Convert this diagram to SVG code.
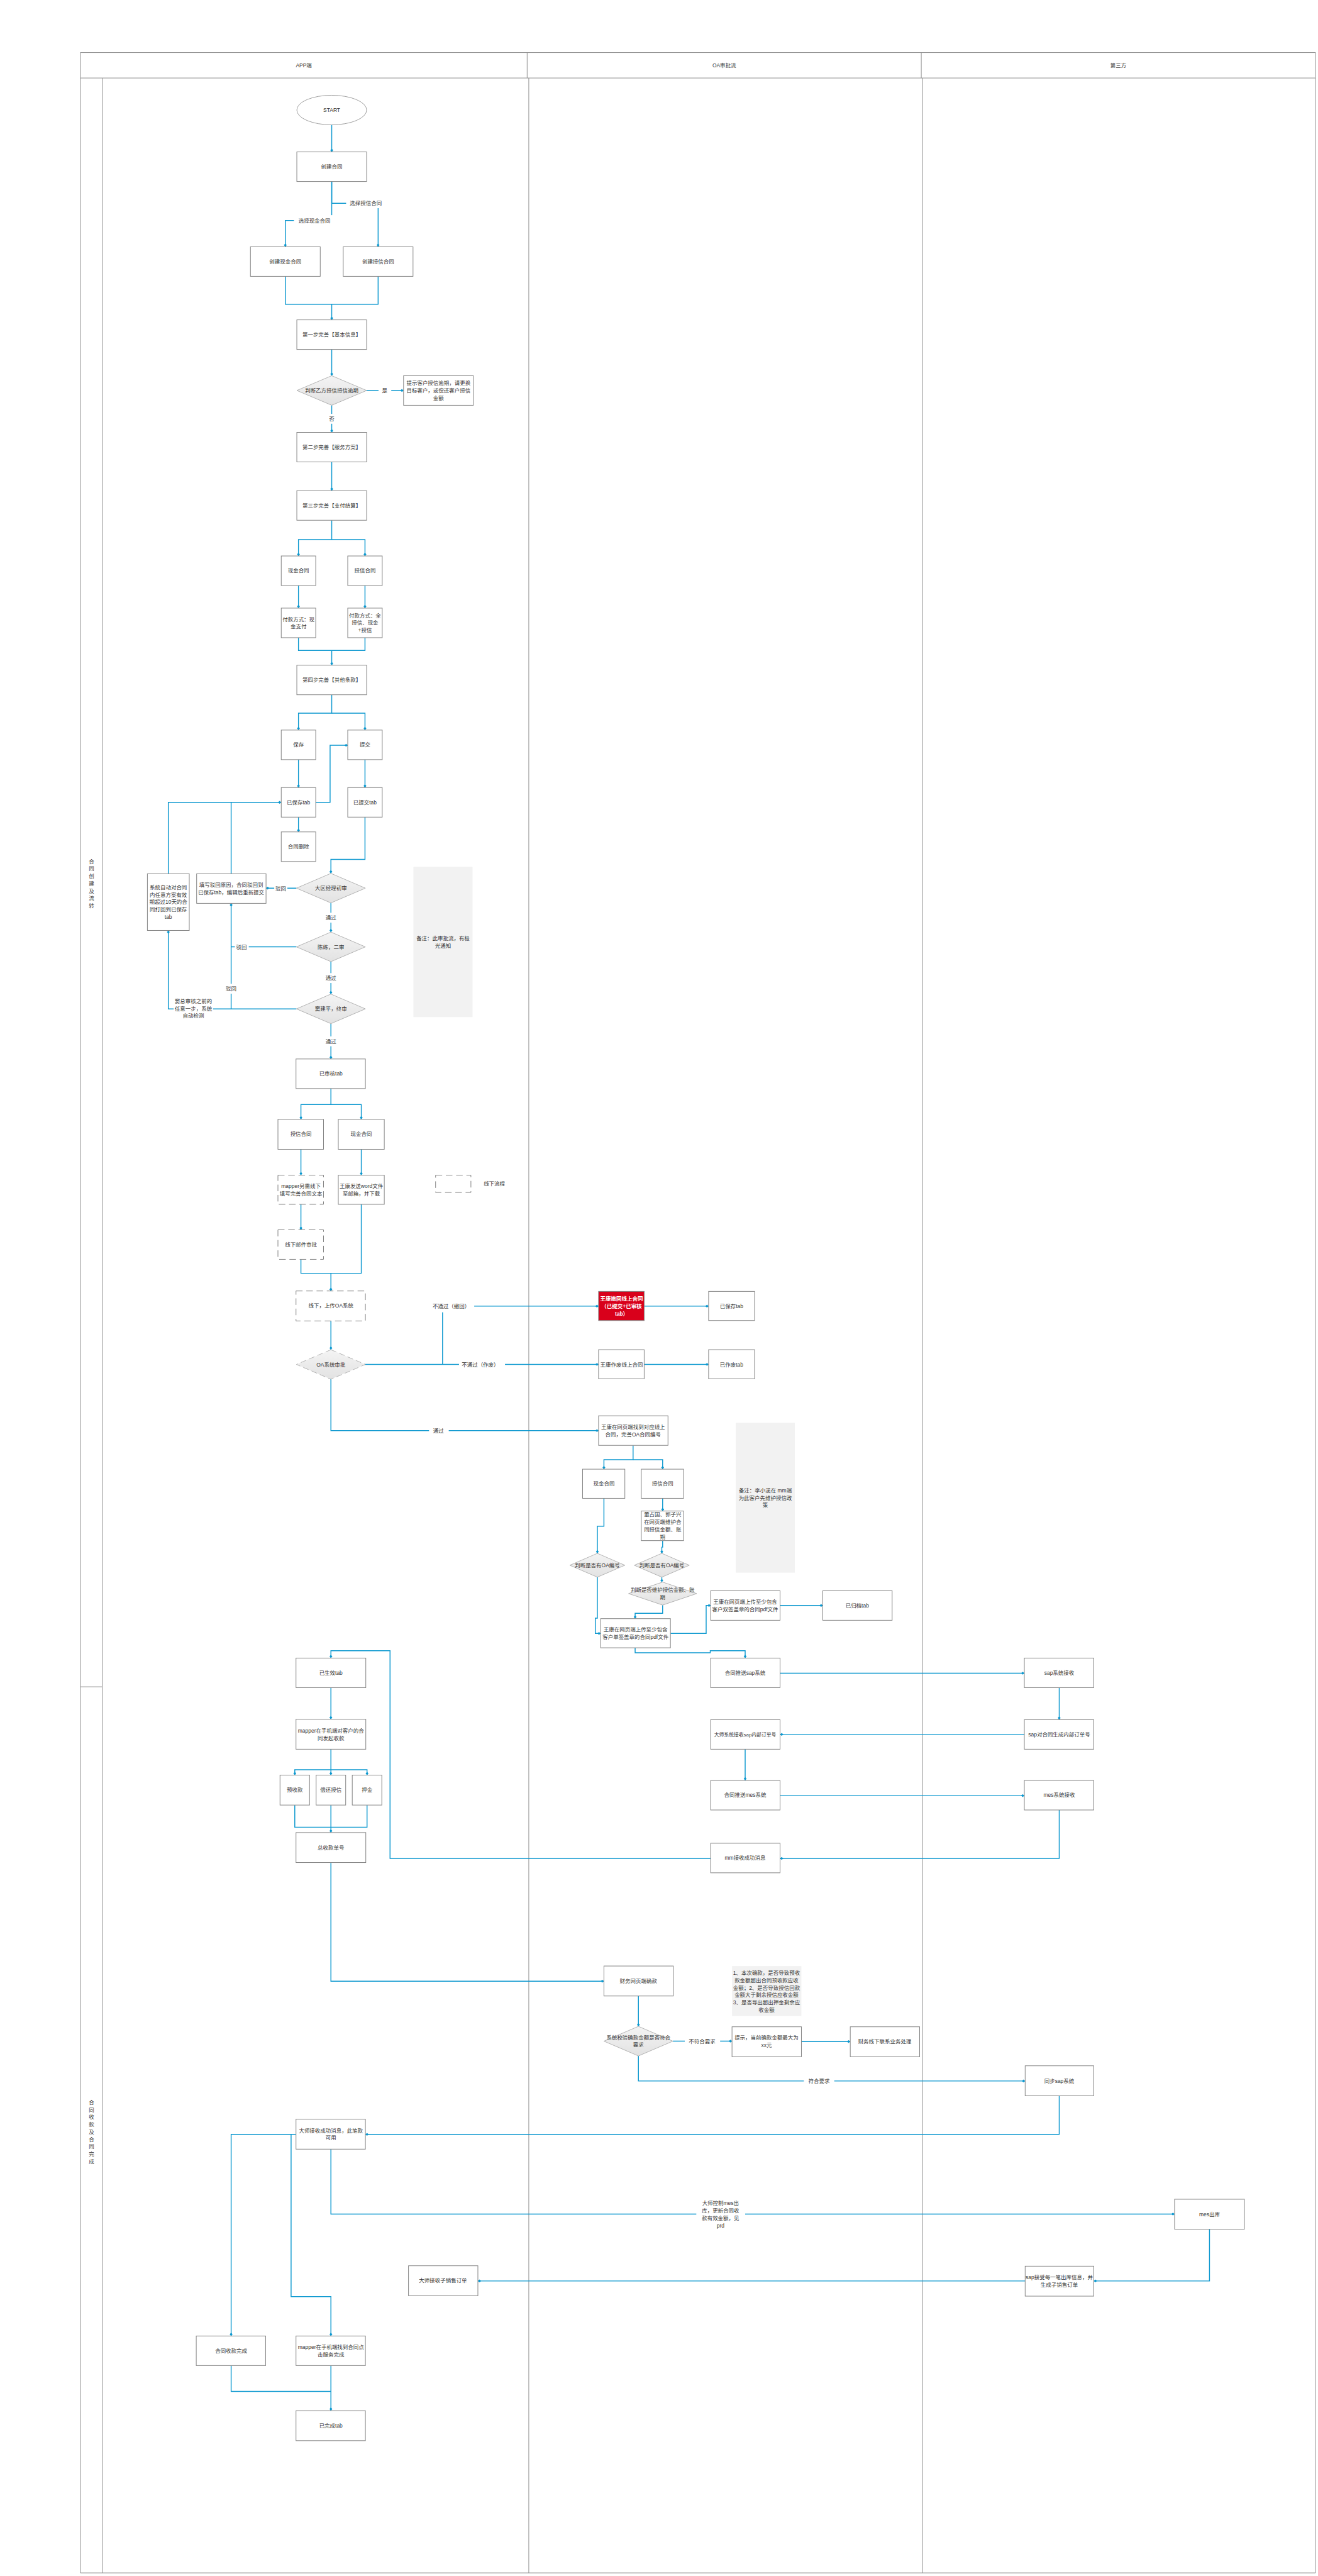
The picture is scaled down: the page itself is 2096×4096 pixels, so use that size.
<svg xmlns="http://www.w3.org/2000/svg" width="2096" height="4096" viewBox="0 0 2096 4096">
<defs>
<style>
.b{fill:#fff;stroke:#808080;stroke-width:1.5}
.ds{fill:#fff;stroke:#808080;stroke-width:1.5;stroke-dasharray:16 9}
.dm{fill:url(#dg);stroke:#a6a6a6;stroke-width:1.3}
.dmd{fill:url(#dg);stroke:#a6a6a6;stroke-width:1.3;stroke-dasharray:14 8}
.nt{fill:#f2f2f2}
.red{fill:#d9001b;stroke:#808080;stroke-width:1.5}
.t{font-family:"Liberation Sans","Noto Sans CJK SC",sans-serif;font-size:13px;fill:#333;text-anchor:middle}
.s{font-size:12px}
.w{fill:#fff;font-weight:bold}
.c{fill:none;stroke:#0c98cf;stroke-width:2.2}
.a{marker-end:url(#m)}
.ln{stroke:#8c8c8c;stroke-width:1.5;fill:none}
.lb{fill:#fff}
</style>
<linearGradient id="dg" x1="0" y1="0" x2="0" y2="1"><stop offset="0" stop-color="#f4f4f4"/><stop offset="1" stop-color="#e2e2e2"/></linearGradient>
<marker id="m" viewBox="0 0 8 8" refX="8" refY="4" markerWidth="8" markerHeight="8" markerUnits="userSpaceOnUse" orient="auto"><path d="M0,4 L4,0.5 L8,4 L4,7.5 Z" fill="#0c98cf"/></marker>
</defs>
<rect x="0" y="0" width="2096" height="4096" fill="#fff"/>
<g transform="scale(0.6529)">
<g id="swimlanes">
<rect x="196" y="128" width="3008" height="62" fill="#fff" class="ln"/>
<path class="ln" d="M1284,128 V190 M2244,128 V190 M196,190 V6266 M249,190 V6266 M1288,190 V6266 M2247,190 V6266 M3204,190 V6266 M196,4108 H249 M196,6266 H3204"/>
<text class="t" x="740" y="163.5">APP端</text>
<text class="t" x="1764" y="163.5">OA审批流</text>
<text class="t" x="2724" y="163.5">第三方</text>
<text class="t" x="223" y="2102.5"><tspan x="223">合</tspan><tspan x="223" dy="18">同</tspan><tspan x="223" dy="18">创</tspan><tspan x="223" dy="18">建</tspan><tspan x="223" dy="18">及</tspan><tspan x="223" dy="18">流</tspan><tspan x="223" dy="18">转</tspan></text>
<text class="t" x="223" y="5124.5"><tspan x="223">合</tspan><tspan x="223" dy="18">同</tspan><tspan x="223" dy="18">收</tspan><tspan x="223" dy="18">款</tspan><tspan x="223" dy="18">及</tspan><tspan x="223" dy="18">合</tspan><tspan x="223" dy="18">同</tspan><tspan x="223" dy="18">完</tspan><tspan x="223" dy="18">成</tspan></text>
</g>

<g id="connectors">
<path class="c a" d="M808,304 V370"/>
<path class="c a" d="M808,442 V495 H921 V601"/>
<path class="c a" d="M808,442 V537 H695 V601"/>
<path class="c a" d="M695,673 V741 H808 V779"/>
<path class="c" d="M921,673 V741 H808"/>
<path class="c a" d="M808,851 V915"/>
<path class="c a" d="M893,951 H983"/>
<path class="c a" d="M808,987 V1053"/>
<path class="c a" d="M808,1125 V1195"/>
<path class="c a" d="M808,1267 V1314 H727 V1354"/>
<path class="c a" d="M808,1314 H889 V1354"/>
<path class="c a" d="M727,1426 V1481"/>
<path class="c a" d="M889,1426 V1481"/>
<path class="c" d="M727,1553 V1584 H889 V1553"/>
<path class="c a" d="M808,1584 V1620"/>
<path class="c a" d="M808,1692 V1737 H727 V1778"/>
<path class="c a" d="M808,1737 H889 V1778"/>
<path class="c a" d="M727,1850 V1918"/>
<path class="c a" d="M889,1850 V1918"/>
<path class="c a" d="M769,1954 H804 V1815 H847"/>
<path class="c a" d="M727,1990 V2026"/>
<path class="c a" d="M889,1990 V2093 H806 V2127"/>
<path class="c a" d="M722,2163 H648"/>
<path class="c a" d="M563,2128 V1954 H685"/>
<path class="c" d="M410,2128 V1954 H563"/>
<path class="c a" d="M806,2199 V2270"/>
<path class="c" d="M722,2306 H563"/>
<path class="c a" d="M806,2342 V2421"/>
<path class="c a" d="M722,2457 H410 V2266"/>
<path class="c a" d="M563,2457 V2200"/>
<path class="c a" d="M806,2493 V2579"/>
<path class="c a" d="M806,2651 V2690 H733 V2726"/>
<path class="c a" d="M806,2690 H880 V2726"/>
<path class="c a" d="M733,2799 V2862"/>
<path class="c a" d="M880,2799 V2862"/>
<path class="c a" d="M733,2933 V2995"/>
<path class="c" d="M733,3067 V3101 H880 V2933"/>
<path class="c a" d="M806,3101 V3144"/>
<path class="c a" d="M806,3217 V3287"/>
<path class="c a" d="M889,3323 H1458"/>
<path class="c a" d="M1078,3323 V3181 H1458"/>
<path class="c a" d="M806,3359 V3484 H1458"/>
<path class="c a" d="M1569,3181 H1726"/>
<path class="c a" d="M1569,3323 H1726"/>
<path class="c a" d="M1542,3520 V3555 H1471 V3578"/>
<path class="c a" d="M1542,3555 H1614 V3578"/>
<path class="c a" d="M1471,3649 V3717 H1455 V3783"/>
<path class="c a" d="M1614,3649 V3680"/>
<path class="c a" d="M1614,3752 V3768 H1612 V3783"/>
<path class="c a" d="M1612,3841 V3853"/>
<path class="c a" d="M1455,3841 V3941 H1450 V3978 H1463"/>
<path class="c a" d="M1614,3909 V3929 H1547 V3942"/>
<path class="c a" d="M1633,3978 H1720 V3910 H1731"/>
<path class="c a" d="M1900,3910 H2004"/>
<path class="c a" d="M1547,4013 V4025 H1730 V4020 H1815 V4038"/>
<path class="c a" d="M1900,4075 H2495"/>
<path class="c a" d="M2580,4110 V4188"/>
<path class="c a" d="M2495,4224 H1900"/>
<path class="c a" d="M1815,4260 V4336"/>
<path class="c a" d="M1900,4373 H2495"/>
<path class="c a" d="M2580,4408 V4526 H1900"/>
<path class="c a" d="M1731,4526 H950 V4020 H806 V4038"/>
<path class="c a" d="M806,4110 V4187"/>
<path class="c a" d="M806,4260 V4310 H718 V4323"/>
<path class="c a" d="M806,4310 V4323"/>
<path class="c a" d="M806,4310 H894 V4323"/>
<path class="c" d="M718,4396 V4450 H894 V4396"/>
<path class="c a" d="M806,4396 V4463"/>
<path class="c a" d="M806,4537 V4825 H1471"/>
<path class="c a" d="M1555,4861 V4935"/>
<path class="c a" d="M1639,4971 H1783"/>
<path class="c a" d="M1952,4972 H2071"/>
<path class="c a" d="M1555,5007 V5068 H2497"/>
<path class="c a" d="M2580,5104 V5198 H890"/>
<path class="c a" d="M721,5198 H563 V5689"/>
<path class="c a" d="M709,5198 V5593 H806 V5689"/>
<path class="c a" d="M806,5234 V5392 H2861"/>
<path class="c a" d="M2946,5429 V5555 H2664"/>
<path class="c a" d="M2497,5555 H1164"/>
<path class="c" d="M563,5761 V5824 H806"/>
<path class="c a" d="M806,5761 V5871"/>
</g>

<g id="labels">
<rect class="lb" x="843" y="483" width="90" height="24"/><text class="t" x="891" y="499.5">选择授信合同</text>
<rect class="lb" x="716" y="524" width="96" height="26"/><text class="t" x="766" y="541.5">选择现金合同</text>
<rect class="lb" x="922" y="939" width="31" height="24"/><text class="t" x="937" y="955.5">是</text>
<rect class="lb" x="796" y="1008" width="24" height="24"/><text class="t" x="808" y="1024.5">否</text>
<rect class="lb" x="668" y="2152" width="32" height="24"/><text class="t" x="684" y="2168.5">驳回</text>
<rect class="lb" x="788" y="2223" width="36" height="24"/><text class="t" x="806" y="2239.5">通过</text>
<rect class="lb" x="572" y="2295" width="34" height="24"/><text class="t" x="588" y="2311.5">驳回</text>
<rect class="lb" x="788" y="2370" width="36" height="24"/><text class="t" x="806" y="2386.5">通过</text>
<rect class="lb" x="549" y="2396" width="28" height="24"/><text class="t" x="563" y="2412.5">驳回</text>
<rect class="lb" x="423" y="2428" width="96" height="58"/><text class="t" x="471" y="2443.5"><tspan x="471">窦总审核之前的</tspan><tspan x="471" dy="17.5">任意一步，系统</tspan><tspan x="471" dy="17.5">自动检测</tspan></text>
<rect class="lb" x="788" y="2524" width="36" height="24"/><text class="t" x="806" y="2540.5">通过</text>
<rect class="lb" x="1050" y="3168" width="105" height="28"/><text class="t" x="1099" y="3185.5">不通过（撤回）</text>
<rect class="lb" x="1118" y="3311" width="112" height="24"/><text class="t" x="1170" y="3327.5">不通过（作废）</text>
<rect class="lb" x="1045" y="3472" width="48" height="24"/><text class="t" x="1068" y="3488.5">通过</text>
<rect class="lb" x="1668" y="4960" width="86" height="24"/><text class="t" x="1710" y="4976.5">不符合要求</text>
<rect class="lb" x="1958" y="5056" width="74" height="24"/><text class="t" x="1995" y="5072.5">符合要求</text>
<rect class="lb" x="1696" y="5353" width="119" height="78"/><text class="t" x="1755" y="5370.5"><tspan x="1755">大师控制mes出</tspan><tspan x="1755" dy="18">库，更新合同收</tspan><tspan x="1755" dy="18">款有效金额，见</tspan><tspan x="1755" dy="18">prd</tspan></text>
</g>

<g id="n-start"><ellipse cx="808" cy="268" rx="85" ry="36" fill="#fff" stroke="#8c8c8c" stroke-width="1.3"/><text class="t" x="808" y="272.5">START</text></g>
<g id="n-create"><rect class="b" x="723" y="370" width="170" height="72"/><text class="t" x="808" y="410.5">创建合同</text></g>
<g id="n-create-cash"><rect class="b" x="610" y="601" width="170" height="72"/><text class="t" x="695" y="641.5">创建现金合同</text></g>
<g id="n-create-credit"><rect class="b" x="836" y="601" width="170" height="72"/><text class="t" x="921" y="641.5">创建授信合同</text></g>
<g id="n-step1"><rect class="b" x="723" y="779" width="170" height="72"/><text class="t" x="808" y="819.5">第一步完善【基本信息】</text></g>
<g id="n-judge-overdue"><polygon class="dm" points="808,915 893,951 808,987 723,951"/><text class="t" x="808" y="955.5">判断乙方授信授信逾期</text></g>
<g id="n-tip-overdue"><rect class="b" x="983" y="915" width="170" height="72"/><text class="t" x="1068" y="937.5"><tspan x="1068">提示客户授信逾期，请更换</tspan><tspan x="1068" dy="18">目标客户，或偿还客户授信</tspan><tspan x="1068" dy="18">金额</tspan></text></g>
<g id="n-step2"><rect class="b" x="723" y="1053" width="170" height="72"/><text class="t" x="808" y="1093.5">第二步完善【服务方案】</text></g>
<g id="n-step3"><rect class="b" x="723" y="1195" width="170" height="72"/><text class="t" x="808" y="1235.5">第三步完善【支付结算】</text></g>
<g id="n-cash1"><rect class="b" x="685" y="1354" width="84" height="72"/><text class="t" x="727" y="1394.5">现金合同</text></g>
<g id="n-credit1"><rect class="b" x="847" y="1354" width="84" height="72"/><text class="t" x="889" y="1394.5">授信合同</text></g>
<g id="n-pay-cash"><rect class="b" x="685" y="1481" width="84" height="72"/><text class="t" x="727" y="1512.5"><tspan x="727">付款方式：现</tspan><tspan x="727" dy="18">金支付</tspan></text></g>
<g id="n-pay-credit"><rect class="b" x="847" y="1481" width="84" height="72"/><text class="t" x="889" y="1503.5"><tspan x="889">付款方式：全</tspan><tspan x="889" dy="18">授信、现金</tspan><tspan x="889" dy="18">+授信</tspan></text></g>
<g id="n-step4"><rect class="b" x="723" y="1620" width="170" height="72"/><text class="t" x="808" y="1660.5">第四步完善【其他条款】</text></g>
<g id="n-save"><rect class="b" x="685" y="1778" width="84" height="72"/><text class="t" x="727" y="1818.5">保存</text></g>
<g id="n-submit"><rect class="b" x="847" y="1778" width="84" height="72"/><text class="t" x="889" y="1818.5">提交</text></g>
<g id="n-saved-tab"><rect class="b" x="685" y="1918" width="84" height="72"/><text class="t" x="727" y="1958.5">已保存tab</text></g>
<g id="n-submitted-tab"><rect class="b" x="847" y="1918" width="84" height="72"/><text class="t" x="889" y="1958.5">已提交tab</text></g>
<g id="n-delete"><rect class="b" x="685" y="2026" width="84" height="72"/><text class="t" x="727" y="2066.5">合同删除</text></g>
<g id="n-review1"><polygon class="dm" points="806,2127 890,2163 806,2199 722,2163"/><text class="t" x="806" y="2167.5">大区经理初审</text></g>
<g id="n-reject-fill"><rect class="b" x="479" y="2128" width="169" height="72"/><text class="t" x="563" y="2159.5"><tspan x="563">填写驳回原因，合同驳回到</tspan><tspan x="563" dy="18">已保存tab，编辑后重新提交</tspan></text></g>
<g id="n-auto-return"><rect class="b" x="359" y="2128" width="102" height="138"/><text class="t" x="410" y="2165.5"><tspan x="410">系统自动对合同</tspan><tspan x="410" dy="18">内任意方案有效</tspan><tspan x="410" dy="18">期超过10天的合</tspan><tspan x="410" dy="18">同打回到已保存</tspan><tspan x="410" dy="18">tab</tspan></text></g>
<g id="n-review2"><polygon class="dm" points="806,2270 890,2306 806,2342 722,2306"/><text class="t" x="806" y="2310.5">陈练，二审</text></g>
<g id="n-review3"><polygon class="dm" points="806,2421 890,2457 806,2493 722,2457"/><text class="t" x="806" y="2461.5">窦建平，终审</text></g>
<g id="n-note1"><rect class="nt" x="1007" y="2111" width="144" height="366"/><text class="t" x="1079" y="2290"><tspan x="1079">备注：此审批流，有极</tspan><tspan x="1079" dy="18">光通知</tspan></text></g>
<g id="n-audited-tab"><rect class="b" x="721" y="2579" width="169" height="72"/><text class="t" x="806" y="2619.5">已审核tab</text></g>
<g id="n-credit2"><rect class="b" x="677" y="2726" width="111" height="73"/><text class="t" x="733" y="2766.5">授信合同</text></g>
<g id="n-cash2"><rect class="b" x="824" y="2726" width="112" height="73"/><text class="t" x="880" y="2766.5">现金合同</text></g>
<g id="n-mapper-offline"><rect class="ds" x="677" y="2862" width="111" height="71"/><text class="t" x="733" y="2893"><tspan x="733">mapper另需线下</tspan><tspan x="733" dy="18">填写完善合同文本</tspan></text></g>
<g id="n-word"><rect class="b" x="824" y="2862" width="112" height="71"/><text class="t" x="880" y="2893"><tspan x="880">王康发送word文件</tspan><tspan x="880" dy="18">至邮箱，并下载</tspan></text></g>
<g id="n-mail-approve"><rect class="ds" x="677" y="2995" width="111" height="72"/><text class="t" x="733" y="3035.5">线下邮件审批</text></g>
<g id="n-upload-oa"><rect class="ds" x="721" y="3144" width="169" height="73"/><text class="t" x="806" y="3184.5">线下，上传OA系统</text></g>
<g id="n-oa-approve"><polygon class="dmd" points="806,3287 890,3323 806,3359 722,3323"/><text class="t" x="806" y="3327.5">OA系统审批</text></g>
<g id="legend-offline"><rect class="ds" x="1061" y="2862" width="86" height="42"/><text class="t" x="1204" y="2887.5">线下流程</text></g>
<g id="n-withdraw"><rect class="red" x="1458" y="3145" width="111" height="71"/><text class="t w" x="1514" y="3167.5"><tspan x="1514">王康撤回线上合同</tspan><tspan x="1514" dy="18">（已提交+已审核</tspan><tspan x="1514" dy="18">tab）</tspan></text></g>
<g id="n-saved-tab2"><rect class="b" x="1726" y="3145" width="112" height="71"/><text class="t" x="1782" y="3185.5">已保存tab</text></g>
<g id="n-void"><rect class="b" x="1458" y="3287" width="111" height="71"/><text class="t" x="1514" y="3327.5">王康作废线上合同</text></g>
<g id="n-void-tab"><rect class="b" x="1726" y="3287" width="112" height="71"/><text class="t" x="1782" y="3327.5">已作废tab</text></g>
<g id="n-find-online"><rect class="b" x="1458" y="3448" width="169" height="72"/><text class="t" x="1542" y="3479.5"><tspan x="1542">王康在网页端找到对应线上</tspan><tspan x="1542" dy="18">合同，完善OA合同编号</tspan></text></g>
<g id="n-cash3"><rect class="b" x="1419" y="3578" width="103" height="71"/><text class="t" x="1471" y="3618">现金合同</text></g>
<g id="n-credit3"><rect class="b" x="1562" y="3578" width="103" height="71"/><text class="t" x="1614" y="3618">授信合同</text></g>
<g id="n-maintain"><rect class="b" x="1562" y="3680" width="103" height="72"/><text class="t" x="1614" y="3693.5"><tspan x="1614">董占国、郭子兴</tspan><tspan x="1614" dy="18">在网页端维护合</tspan><tspan x="1614" dy="18">同授信金额、账</tspan><tspan x="1614" dy="18">期</tspan></text></g>
<g id="n-oa-no-l"><polygon class="dm" points="1455,3783 1522,3812 1455,3841 1388,3812"/><text class="t" x="1455" y="3816.5">判断是否有OA编号</text></g>
<g id="n-oa-no-r"><polygon class="dm" points="1612,3783 1679,3812 1612,3841 1545,3812"/><text class="t" x="1612" y="3816.5">判断是否有OA编号</text></g>
<g id="n-judge-maintain"><polygon class="dm" points="1614,3853 1697,3881 1614,3909 1531,3881"/><text class="t" x="1614" y="3876.5"><tspan x="1614">判断是否维护授信金额、账</tspan><tspan x="1614" dy="18">期</tspan></text></g>
<g id="n-upload-single"><rect class="b" x="1463" y="3942" width="170" height="71"/><text class="t" x="1548" y="3973.5"><tspan x="1548">王康在网页端上传至少包含</tspan><tspan x="1548" dy="18">客户单签盖章的合同pdf文件</tspan></text></g>
<g id="n-upload-double"><rect class="b" x="1731" y="3874" width="169" height="72"/><text class="t" x="1815" y="3905.5"><tspan x="1815">王康在网页端上传至少包含</tspan><tspan x="1815" dy="18">客户双签盖章的合同pdf文件</tspan></text></g>
<g id="n-archived-tab"><rect class="b" x="2004" y="3874" width="169" height="72"/><text class="t" x="2088" y="3914.5">已归档tab</text></g>
<g id="n-note2"><rect class="nt" x="1792" y="3465" width="144" height="365"/><text class="t" x="1864" y="3634.5"><tspan x="1864">备注：李小溪在 mm端</tspan><tspan x="1864" dy="18">为此客户先维护授信政</tspan><tspan x="1864" dy="18">策</tspan></text></g>
<g id="n-push-sap"><rect class="b" x="1731" y="4038" width="169" height="72"/><text class="t" x="1815" y="4078.5">合同推送sap系统</text></g>
<g id="n-recv-order"><rect class="b" x="1731" y="4188" width="169" height="72"/><text class="t s" x="1815" y="4228.5">大师系统接收sap内部订单号</text></g>
<g id="n-push-mes"><rect class="b" x="1731" y="4336" width="169" height="72"/><text class="t" x="1815" y="4376.5">合同推送mes系统</text></g>
<g id="n-mm-recv"><rect class="b" x="1731" y="4489" width="169" height="72"/><text class="t" x="1815" y="4529.5">mm接收成功消息</text></g>
<g id="n-sap-recv"><rect class="b" x="2495" y="4038" width="169" height="72"/><text class="t" x="2580" y="4078.5">sap系统接收</text></g>
<g id="n-sap-order"><rect class="b" x="2495" y="4188" width="169" height="72"/><text class="t" x="2580" y="4228.5">sap对合同生成内部订单号</text></g>
<g id="n-mes-recv"><rect class="b" x="2495" y="4336" width="169" height="72"/><text class="t" x="2580" y="4376.5">mes系统接收</text></g>
<g id="n-effective-tab"><rect class="b" x="721" y="4038" width="170" height="72"/><text class="t" x="806" y="4078.5">已生效tab</text></g>
<g id="n-collect"><rect class="b" x="721" y="4187" width="170" height="73"/><text class="t" x="806" y="4219.5"><tspan x="806">mapper在手机端对客户的合</tspan><tspan x="806" dy="18">同发起收款</tspan></text></g>
<g id="n-prepay"><rect class="b" x="682" y="4323" width="72" height="73"/><text class="t" x="718" y="4364">预收款</text></g>
<g id="n-repay"><rect class="b" x="770" y="4323" width="72" height="73"/><text class="t" x="806" y="4364">偿还授信</text></g>
<g id="n-deposit"><rect class="b" x="858" y="4323" width="72" height="73"/><text class="t" x="894" y="4364">押金</text></g>
<g id="n-total-no"><rect class="b" x="721" y="4463" width="170" height="73"/><text class="t" x="806" y="4504">总收款单号</text></g>
<g id="n-finance-confirm"><rect class="b" x="1471" y="4788" width="169" height="73"/><text class="t" x="1555" y="4829">财务网页端确款</text></g>
<g id="n-check-amount"><polygon class="dm" points="1555,4935 1639,4971 1555,5007 1471,4971"/><text class="t" x="1555" y="4966.5"><tspan x="1555">系统校验确款金额是否符合</tspan><tspan x="1555" dy="18">要求</tspan></text></g>
<g id="n-tip-max"><rect class="b" x="1783" y="4936" width="169" height="73"/><text class="t" x="1867" y="4967.5"><tspan x="1867">提示，当前确款金额最大为</tspan><tspan x="1867" dy="18">xx元</tspan></text></g>
<g id="n-offline-contact"><rect class="b" x="2071" y="4936" width="169" height="73"/><text class="t" x="2155" y="4976.5">财务线下联系业务处理</text></g>
<g id="n-note3"><rect class="nt" x="1783" y="4788" width="169" height="122"/><text class="t" x="1867" y="4809.5"><tspan x="1867">1、本次确款，是否导致预收</tspan><tspan x="1867" dy="18">款金额超出合同预收款应收</tspan><tspan x="1867" dy="18">金额；2、是否导致授信回款</tspan><tspan x="1867" dy="18">金额大于剩余授信应收金额</tspan><tspan x="1867" dy="18">3、是否导出超出押金剩余应</tspan><tspan x="1867" dy="18">收金额</tspan></text></g>
<g id="n-sync-sap"><rect class="b" x="2497" y="5031" width="167" height="73"/><text class="t" x="2580" y="5072">同步sap系统</text></g>
<g id="n-mes-out"><rect class="b" x="2861" y="5356" width="170" height="73"/><text class="t" x="2946" y="5397">mes出库</text></g>
<g id="n-sap-sub"><rect class="b" x="2497" y="5519" width="167" height="73"/><text class="t" x="2580" y="5551"><tspan x="2580">sap接受每一笔出库信息，并</tspan><tspan x="2580" dy="18">生成子销售订单</tspan></text></g>
<g id="n-master-success"><rect class="b" x="721" y="5161" width="169" height="73"/><text class="t" x="806" y="5193"><tspan x="806">大师接收成功消息，此笔款</tspan><tspan x="806" dy="18">可用</tspan></text></g>
<g id="n-master-sub"><rect class="b" x="995" y="5518" width="169" height="73"/><text class="t" x="1079" y="5559">大师接收子销售订单</text></g>
<g id="n-collect-done"><rect class="b" x="478" y="5689" width="169" height="72"/><text class="t" x="563" y="5729.5">合同收款完成</text></g>
<g id="n-service-done"><rect class="b" x="721" y="5689" width="169" height="72"/><text class="t" x="806" y="5720.5"><tspan x="806">mapper在手机端找到合同点</tspan><tspan x="806" dy="18">击服务完成</tspan></text></g>
<g id="n-done-tab"><rect class="b" x="721" y="5871" width="169" height="73"/><text class="t" x="806" y="5912">已完成tab</text></g>
</g>
</svg>
